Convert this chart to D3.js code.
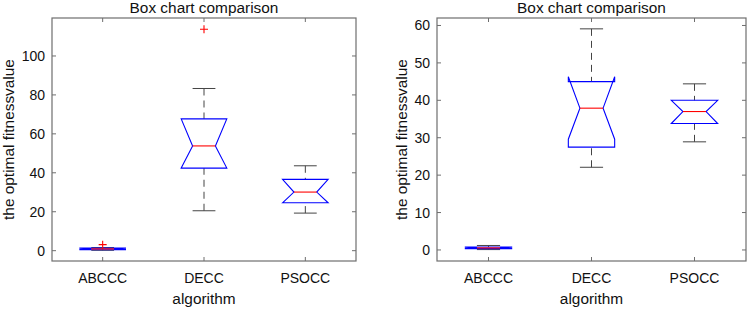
<!DOCTYPE html>
<html>
<head>
<meta charset="utf-8">
<script src="https://cdn.jsdelivr.net/npm/d3@7"></script>
<style>
  body { margin: 0; background: #fff; }
  svg { display: block; font-family: "Liberation Sans", Arial, sans-serif; }
</style>
</head>
<body>
<svg width="748" height="309"></svg>
<script>
const categories = ['ABCCC', 'DECC', 'PSOCC'];

// left panel
const leftQ1 = [0.5, 42.4, 24.6];
const leftMedian = [0.9, 53.8, 30.1];
const leftQ3 = [1.3, 67.7, 36.6];
const leftNotchLo = [0.6, 42.4, 24.6];
const leftNotchHi = [1.2, 67.7, 36.6];
const leftWhiskerLo = [0.2, 20.5, 19.3];
const leftWhiskerHi = [1.6, 83.3, 43.6];
const leftOutliers = [[3.1], [113.7], []];
const leftTicks = [0, 20, 40, 60, 80, 100];

// right panel
const rightQ1 = [0.35, 27.5, 33.8];
const rightMedian = [0.55, 37.9, 37.0];
const rightQ3 = [0.8, 45.0, 40.0];
const rightNotchLo = [0.4, 29.6, 33.8];
const rightNotchHi = [0.7, 46.3, 40.0];
const rightWhiskerLo = [0.1, 22.1, 28.9];
const rightWhiskerHi = [1.2, 59.1, 44.4];
const rightOutliers = [[], [], []];
const rightTicks = [0, 10, 20, 30, 40, 50, 60];

const svg = d3.select('svg');

const BOX_W = 0.45;
const TICK_LEN = 4;
const TEXT_COLOUR = '#111';
const AXIS_COLOUR = '#6e6e6e';

function drawPanel(p) {
    const x = d3.scaleLinear().domain([0.5, 3.5]).range([p.left, p.right]);
    const y = d3.scaleLinear().domain(p.yDomain).range([p.bottom, p.top]);
    const g = svg.append('g');

    const boxes = categories.map((c, i) => ({
        i: i + 1, q1: p.q1[i], med: p.med[i], q3: p.q3[i],
        nlo: p.nlo[i], nhi: p.nhi[i], wlo: p.wlo[i], whi: p.whi[i], out: p.out[i]
    }));

    // axes box
    g.append('rect')
        .attr('x', p.left).attr('y', p.top)
        .attr('width', p.right - p.left).attr('height', p.bottom - p.top)
        .attr('fill', 'none').attr('stroke', AXIS_COLOUR).attr('stroke-width', 1.2);

    // y ticks both sides, inside
    p.ticks.forEach(t => {
        g.append('line').attr('x1', p.left).attr('x2', p.left + TICK_LEN)
            .attr('y1', y(t)).attr('y2', y(t)).attr('stroke', AXIS_COLOUR);
        g.append('line').attr('x1', p.right).attr('x2', p.right - TICK_LEN)
            .attr('y1', y(t)).attr('y2', y(t)).attr('stroke', AXIS_COLOUR);
        g.append('text').text(t)
            .attr('x', p.left - 7).attr('y', y(t) + 5)
            .attr('text-anchor', 'end').attr('font-size', 14).attr('fill', TEXT_COLOUR);
    });

    // x ticks top and bottom
    categories.forEach((c, i) => {
        const cx = x(i + 1);
        g.append('line').attr('x1', cx).attr('x2', cx)
            .attr('y1', p.bottom).attr('y2', p.bottom - TICK_LEN).attr('stroke', AXIS_COLOUR);
        g.append('line').attr('x1', cx).attr('x2', cx)
            .attr('y1', p.top).attr('y2', p.top + TICK_LEN).attr('stroke', AXIS_COLOUR);
        g.append('text').text(c)
            .attr('x', cx).attr('y', 283)
            .attr('text-anchor', 'middle').attr('font-size', 14).attr('fill', TEXT_COLOUR);
    });

    // whiskers (dashed, from whisker end to box)
    g.selectAll('.whi').data(boxes).join('line')
        .attr('x1', d => x(d.i)).attr('x2', d => x(d.i))
        .attr('y1', d => y(d.whi)).attr('y2', d => y(d.q3))
        .attr('stroke', '#444').attr('stroke-dasharray', '7,5');
    g.selectAll('.wlo').data(boxes).join('line')
        .attr('x1', d => x(d.i)).attr('x2', d => x(d.i))
        .attr('y1', d => y(d.wlo)).attr('y2', d => y(d.q1))
        .attr('stroke', '#444').attr('stroke-dasharray', '7,5');

    // caps
    const capW = x(1 + BOX_W / 4) - x(1);
    ['whi', 'wlo'].forEach(k => {
        g.selectAll('.cap-' + k).data(boxes).join('line')
            .attr('x1', d => x(d.i) - capW).attr('x2', d => x(d.i) + capW)
            .attr('y1', d => y(d[k])).attr('y2', d => y(d[k]))
            .attr('stroke', '#444');
    });

    // notched boxes
    const halfW = x(1 + BOX_W / 2) - x(1);
    const notchW = halfW / 2;
    g.selectAll('.box').data(boxes).join('path')
        .attr('d', d => {
            const cx = x(d.i);
            const pts = [
                [cx - halfW, y(d.q1)], [cx - halfW, y(d.nlo)], [cx - notchW, y(d.med)],
                [cx - halfW, y(d.nhi)], [cx - halfW, y(d.q3)], [cx + halfW, y(d.q3)],
                [cx + halfW, y(d.nhi)], [cx + notchW, y(d.med)], [cx + halfW, y(d.nlo)],
                [cx + halfW, y(d.q1)]
            ];
            return d3.line()(pts) + 'Z';
        })
        .attr('fill', 'none').attr('stroke', '#0000ff').attr('stroke-width', 1.1);

    // medians
    g.selectAll('.med').data(boxes).join('line')
        .attr('x1', d => x(d.i) - notchW).attr('x2', d => x(d.i) + notchW)
        .attr('y1', d => y(d.med)).attr('y2', d => y(d.med))
        .attr('stroke', '#ff0000').attr('stroke-width', 1.1);

    // outliers
    const outs = boxes.flatMap(d => d.out.map(v => ({ i: d.i, v })));
    g.selectAll('.out').data(outs).join('path')
        .attr('d', d => {
            const cx = x(d.i), cy = y(d.v);
            return `M${cx - 4},${cy}H${cx + 4}M${cx},${cy - 4}V${cy + 4}`;
        })
        .attr('stroke', '#ff0000').attr('stroke-width', 1.1);

    // title and labels
    g.append('text').text('Box chart comparison')
        .attr('x', (p.left + p.right) / 2).attr('y', 13)
        .attr('text-anchor', 'middle').attr('font-size', 15.4).attr('fill', TEXT_COLOUR);
    g.append('text').text('algorithm')
        .attr('x', (p.left + p.right) / 2).attr('y', 304)
        .attr('text-anchor', 'middle').attr('font-size', 15.4).attr('fill', TEXT_COLOUR);
    g.append('text').text('the optimal fitnessvalue')
        .attr('transform', `translate(${p.labelX},${(p.top + p.bottom) / 2}) rotate(-90)`)
        .attr('text-anchor', 'middle').attr('font-size', 15.4).attr('fill', TEXT_COLOUR);
}

drawPanel({
    left: 52, right: 356, top: 18, bottom: 261, yDomain: [-5.3, 119.5], labelX: 14,
    q1: leftQ1, med: leftMedian, q3: leftQ3, nlo: leftNotchLo, nhi: leftNotchHi,
    wlo: leftWhiskerLo, whi: leftWhiskerHi, out: leftOutliers, ticks: leftTicks
});

drawPanel({
    left: 437, right: 746, top: 18, bottom: 261, yDomain: [-2.95, 62.0], labelX: 407,
    q1: rightQ1, med: rightMedian, q3: rightQ3, nlo: rightNotchLo, nhi: rightNotchHi,
    wlo: rightWhiskerLo, whi: rightWhiskerHi, out: rightOutliers, ticks: rightTicks
});
</script>
</body>
</html>
